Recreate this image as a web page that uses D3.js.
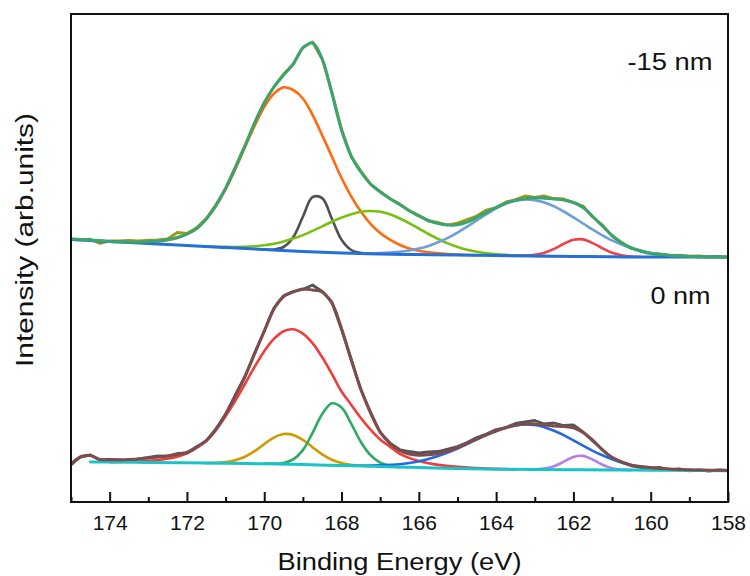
<!DOCTYPE html>
<html><head><meta charset="utf-8">
<script src="https://cdn.jsdelivr.net/npm/d3@7"></script>
<style>body{margin:0;background:#fff;} svg{display:block;} text{font-family:Arial,"Liberation Sans",sans-serif;fill:#111;}</style>
</head><body><svg id="c" width="750" height="576"></svg>
<script>
// ---------- DATA ----------
const energy = [175,174.75,174.5,174.25,174,173.75,173.5,173.25,173,172.75,172.5,172.25,172,171.75,171.5,171.25,171,170.75,170.5,170.25,170,169.75,169.5,169.25,169,168.75,168.5,168.25,168,167.75,167.5,167.25,167,166.75,166.5,166.25,166,165.75,165.5,165.25,165,164.75,164.5,164.25,164,163.75,163.5,163.25,163,162.75,162.5,162.25,162,161.75,161.5,161.25,161,160.75,160.5,160.25,160,159.75,159.5,159.25,159,158.75,158.5,158.25,158];

// -15 nm spectrum (upper)
const topRaw = [26.30,26.22,26.28,25.85,26.12,26.10,26.15,26.12,26.18,26.20,26.32,26.95,26.85,27.42,28.35,29.72,31.36,33.48,35.64,37.88,39.98,41.50,42.80,43.78,45.48,46.00,44.28,40.98,37.26,34.55,33.10,31.78,31.06,30.32,29.82,29.12,28.68,28.10,27.95,27.70,27.90,28.25,28.60,29.20,29.45,29.98,30.25,30.60,30.45,30.60,30.35,30.30,29.95,29.60,28.50,27.70,26.60,25.95,25.35,25.15,24.85,24.80,24.65,24.68,24.58,24.62,24.52,24.55,24.48];
const topEnvelope = [26.30,26.25,26.20,26.15,26.05,26.02,26.00,26.00,26.05,26.10,26.25,26.45,26.80,27.35,28.30,29.65,31.35,33.40,35.60,37.90,39.90,41.50,42.70,43.80,45.40,45.90,44.30,40.90,37.20,34.60,33.00,31.80,31.00,30.35,29.75,29.15,28.60,28.15,27.85,27.70,27.72,27.98,28.45,28.97,29.45,29.88,30.17,30.33,30.42,30.38,30.30,30.20,29.95,29.45,28.55,27.60,26.65,25.90,25.40,25.08,24.85,24.74,24.65,24.60,24.56,24.53,24.51,24.49,24.48];
const topBackground = [[175,26.25],[174,26.05],[173,25.85],[172,25.65],[171,25.45],[170,25.25],[169,25.05],[168.5,24.97],[168,24.90],[167.5,24.85],[167,24.80],[166,24.74],[165,24.70],[164,24.65],[163,24.60],[162,24.55],[161,24.52],[160,24.50],[158,24.50]];
const topOrange = [[173.75,26.03],[173.5,26.02],[173.25,26.02],[173,26.03],[172.75,26.08],[172.5,26.18],[172.25,26.40],[172,26.78],[171.75,27.34],[171.5,28.29],[171.25,29.60],[171,31.28],[170.75,33.28],[170.5,35.46],[170.25,37.61],[170,39.49],[169.75,40.84],[169.5,41.46],[169.25,41.20],[169,40.35],[168.75,38.71],[168.5,36.67],[168.25,34.54],[168,32.40],[167.75,30.57],[167.5,29.05],[167.25,27.82],[167,26.90],[166.75,26.23],[166.5,25.72],[166.25,25.35],[166,25.12],[165.75,24.97],[165.5,24.86],[165.25,24.79],[165,24.74],[164.5,24.67]];
const topGrey = [[170,25.25],[169.75,25.25],[169.5,25.50],[169.25,26.48],[169,28.52],[168.75,30.48],[168.5,30.39],[168.25,28.32],[168,26.22],[167.75,25.20],[167.5,24.90],[167.25,24.82]];
const topYellowGreen = [[171.5,25.57],[171,25.51],[170.5,25.52],[170.25,25.57],[170,25.67],[169.75,25.83],[169.5,26.05],[169.25,26.34],[169,26.69],[168.75,27.11],[168.5,27.57],[168.25,28.03],[168,28.44],[167.75,28.78],[167.5,29.02],[167.25,29.10],[167,29.02],[166.75,28.78],[166.5,28.38],[166.25,27.89],[166,27.35],[165.75,26.80],[165.5,26.30],[165.25,25.86],[165,25.51],[164.75,25.23],[164.5,25.02],[164.25,24.87],[164,24.78],[163.75,24.71],[163.5,24.66],[163,24.61],[162.5,24.57]];
const topLightBlue = [[167.5,24.90],[167,24.89],[166.5,25.02],[166.25,25.15],[166,25.34],[165.75,25.61],[165.5,25.97],[165.25,26.41],[165,26.94],[164.75,27.53],[164.5,28.16],[164.25,28.78],[164,29.36],[163.75,29.82],[163.5,30.13],[163.25,30.26],[163,30.19],[162.75,29.96],[162.5,29.56],[162.25,29.05],[162,28.46],[161.75,27.85],[161.5,27.23],[161.25,26.67],[161,26.16],[160.75,25.74],[160.5,25.39],[160.25,25.12],[160,24.91],[159.75,24.77],[159.5,24.67],[159,24.56],[158.5,24.50]];
const topRed = [[163.5,24.62],[163.25,24.64],[163,24.72],[162.75,24.93],[162.5,25.31],[162.25,25.82],[162,26.22],[161.75,26.26],[161.5,25.89],[161.25,25.37],[161,24.92],[160.75,24.67],[160.5,24.55],[160.25,24.505]];

// 0 nm spectrum (lower)
const botRaw = [3.70,4.55,4.70,4.20,4.25,4.18,4.10,4.32,4.45,4.62,4.58,4.85,4.92,5.52,6.10,7.32,8.75,10.70,12.50,14.90,17.05,19.40,20.62,21.05,21.25,21.70,21.05,20.00,17.25,14.30,11.22,9.00,6.95,5.92,5.25,5.05,4.90,5.00,5.05,5.30,5.55,5.95,6.45,6.80,7.25,7.45,7.85,8.00,8.15,7.80,7.90,7.65,7.70,7.00,6.20,5.20,4.40,3.95,3.62,3.45,3.40,3.45,3.22,3.30,3.12,3.22,3.08,3.20,3.16];
const botEnvelope = [3.80,4.50,4.65,4.25,4.22,4.22,4.25,4.30,4.40,4.50,4.60,4.75,4.95,5.45,6.15,7.25,8.80,10.60,12.55,14.80,17.10,19.30,20.55,21.00,21.30,21.20,21.00,19.90,17.35,14.20,11.30,8.90,7.00,5.85,5.15,4.80,4.68,4.72,4.85,5.10,5.42,5.85,6.28,6.72,7.10,7.42,7.68,7.80,7.80,7.70,7.60,7.55,7.43,6.95,6.12,5.23,4.47,4.01,3.69,3.54,3.43,3.36,3.30,3.26,3.22,3.20,3.18,3.17,3.16];
const botBackground = [[174.5,4.00],[174,3.99],[173,3.96],[172,3.92],[171,3.87],[170,3.82],[169,3.74],[168,3.65],[167,3.55],[166,3.44],[165,3.35],[164,3.28],[163,3.25],[162,3.22],[161,3.20],[160,3.18],[159,3.16],[158,3.13]];
const botRed = [[174,3.99],[173.5,4.03],[173,4.10],[172.75,4.19],[172.5,4.32],[172.25,4.53],[172,4.87],[171.75,5.43],[171.5,6.09],[171.25,7.20],[171,8.57],[170.75,10.11],[170.5,11.80],[170.25,13.51],[170,15.08],[169.75,16.31],[169.5,17.08],[169.25,17.27],[169,16.84],[168.75,15.88],[168.5,14.47],[168.25,12.81],[168,11.05],[167.75,9.73],[167.5,8.40],[167.25,7.23],[167,6.25],[166.75,5.54],[166.5,4.83],[166.25,4.41],[166,4.09],[165.75,3.87],[165.5,3.71],[165,3.51],[164.5,3.39],[164,3.31],[163.5,3.26]];
const botGold = [[171.5,3.89],[171.25,3.92],[171,4.00],[170.75,4.18],[170.5,4.52],[170.25,5.08],[170,5.79],[169.75,6.44],[169.5,6.80],[169.25,6.71],[169,6.21],[168.75,5.48],[168.5,4.76],[168.25,4.23],[168,3.90],[167.75,3.72],[167.5,3.63],[167.25,3.575]];
const botGreen = [[170,3.82],[169.75,3.84],[169.5,3.91],[169.25,4.26],[169,5.19],[168.75,6.92],[168.5,8.79],[168.25,9.87],[168,9.45],[167.75,7.83],[167.5,6.00],[167.25,4.68],[167,3.93],[166.75,3.62],[166.5,3.48]];
const botBlue = [[168,3.65],[167.5,3.62],[167,3.67],[166.5,3.78],[166.25,3.90],[166,4.07],[165.75,4.30],[165.5,4.59],[165.25,4.94],[165,5.35],[164.75,5.80],[164.5,6.26],[164.25,6.72],[164,7.11],[163.75,7.44],[163.5,7.66],[163.25,7.76],[163,7.70],[162.75,7.48],[162.5,7.12],[162.25,6.68],[162,6.16],[161.75,5.64],[161.5,5.12],[161.25,4.67],[161,4.28],[160.75,3.96],[160.5,3.71],[160.25,3.53],[160,3.40],[159.5,3.25],[159,3.19],[158.5,3.145]];
const botViolet = [[163.25,3.255],[163,3.27],[162.75,3.34],[162.5,3.57],[162.25,4.03],[162,4.50],[161.75,4.61],[161.5,4.24],[161.25,3.73],[161,3.38],[160.75,3.24],[160.5,3.19]];

const majorTicks = [174,172,170,168,166,164,162,160,158];
const minorTicks = [175,173,171,169,167,165,163,161,159];
const spectrumLabels = [{text:"-15 nm", e:158.4, v:43.2, len:85},{text:"0 nm", e:158.45, v:19.8, len:60}];
const xTitle = "Binding Energy (eV)";
const yTitle = "Intensity (arb.units)";

// ---------- DRAW ----------
const svg = d3.select("#c");
const L=71, R=728, T=14, B=502;
const x = d3.scaleLinear().domain([175,158]).range([L,R]);
const y = d3.scaleLinear().domain([0,48.8]).range([B,T]);

svg.append("defs").append("clipPath").attr("id","clip")
  .append("rect").attr("x",L).attr("y",T).attr("width",R-L).attr("height",B-T);
const g = svg.append("g").attr("clip-path","url(#clip)");

const smooth = d3.line().x(d=>x(d[0])).y(d=>y(d[1])).curve(d3.curveCatmullRom.alpha(0.5));
const jag = d3.line().x(d=>x(d[0])).y(d=>y(d[1]));
const zipE = arr => energy.map((e,i)=>[e,arr[i]]);

function draw(data, color, width, gen){
  g.append("path").datum(data).attr("d", gen||smooth)
   .attr("fill","none").attr("stroke",color).attr("stroke-width",width)
   .attr("stroke-linejoin","round").attr("stroke-linecap","round");
}

// upper spectrum
draw(zipE(topRaw), "#9a9a14", 2.8, jag);
draw(topOrange, "#ff6a0e", 2.6);
draw(topGrey, "#505050", 2.6);
draw(topYellowGreen, "#78c010", 2.6);
draw(topLightBlue, "#6d9fd6", 2.6);
draw(topRed, "#f0404a", 2.6);
draw(topBackground, "#2470d8", 3);
draw(zipE(topEnvelope), "#3aa46e", 3);

// lower spectrum
draw(zipE(botRaw), "#555555", 2.8, jag);
draw(botRed, "#f23c3c", 2.6);
draw(botGold, "#cc9c00", 2.6);
draw(botGreen, "#2eaa62", 2.6);
draw(botBlue, "#2468e0", 2.6);
draw(botViolet, "#b67ee6", 2.6);
draw(botBackground, "#18c4c8", 3);
draw(zipE(botEnvelope), "#7e4c4c", 3);

// axes
const ax = svg.append("g").attr("transform",`translate(0,${B})`)
  .call(d3.axisBottom(x).tickValues(majorTicks).tickSize(-10).tickSizeOuter(0).tickPadding(13).tickFormat(d3.format("d")));
ax.select(".domain").remove();
ax.selectAll(".tick line").attr("stroke","#111").attr("stroke-width",2);
ax.selectAll(".tick text").attr("font-size",21).attr("font-family","Arial, 'Liberation Sans', sans-serif").attr("fill","#111");
const axm = svg.append("g").attr("transform",`translate(0,${B})`)
  .call(d3.axisBottom(x).tickValues(minorTicks).tickSize(-5).tickSizeOuter(0).tickFormat(""));
axm.select(".domain").remove();
axm.selectAll(".tick line").attr("stroke","#111").attr("stroke-width",2);

svg.append("rect").attr("x",L).attr("y",T).attr("width",R-L).attr("height",B-T)
  .attr("fill","none").attr("stroke","#111").attr("stroke-width",2);

// labels
spectrumLabels.forEach(s=>{
  svg.append("text").attr("x",x(s.e)-s.len).attr("y",y(s.v))
    .attr("font-size",24).attr("textLength",s.len).attr("lengthAdjust","spacingAndGlyphs").text(s.text);
});
svg.append("text").attr("x",(L+R)/2-122).attr("y",570)
  .attr("font-size",23).attr("textLength",244).attr("lengthAdjust","spacingAndGlyphs").text(xTitle);
svg.append("text").attr("transform",`translate(33,${240+127}) rotate(-90)`)
  .attr("font-size",23).attr("textLength",254).attr("lengthAdjust","spacingAndGlyphs").text(yTitle);
</script></body></html>
